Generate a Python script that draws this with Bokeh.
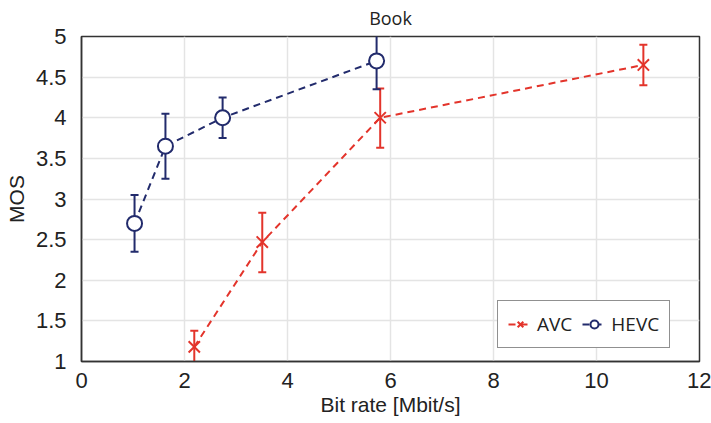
from bokeh.plotting import figure
from bokeh.models import ColumnDataSource, Legend, LegendItem, Range1d, FixedTicker
from bokeh.embed import file_html
from bokeh.resources import INLINE

# Data
avc_rate = [2.19, 3.51, 5.80, 10.91]
avc_mos = [1.18, 2.47, 4.00, 4.65]
avc_lo = [0.98, 2.10, 3.63, 4.40]
avc_hi = [1.38, 2.83, 4.36, 4.90]

hevc_rate = [1.03, 1.63, 2.74, 5.73]
hevc_mos = [2.70, 3.65, 4.00, 4.70]
hevc_lo = [2.35, 3.25, 3.75, 4.35]
hevc_hi = [3.05, 4.05, 4.25, 5.05]

x_ticks = [0, 2, 4, 6, 8, 10, 12]
y_ticks = [1, 1.5, 2, 2.5, 3, 3.5, 4, 4.5, 5]

RED = "#e3342b"
NAVY = "#222b6c"

p = figure(width=711, height=423, output_backend="svg", toolbar_location=None,
           x_range=Range1d(0, 12), y_range=Range1d(1, 5),
           min_border_left=81, min_border_right=12, min_border_top=36, min_border_bottom=62)

p.title.text = "Book"
p.title.align = "center"
p.title.vertical_align = "top"
p.title.text_font = "Open Sans"
p.title.text_font_size = "18px"
p.title.text_font_style = "normal"
p.title.text_color = "#222222"
p.title.offset = 0
p.title.standoff = 10

p.outline_line_color = "#333333"
p.outline_line_width = 1.5

for ax in (p.xaxis[0], p.yaxis[0]):
    ax.major_tick_line_color = None
    ax.minor_tick_line_color = None
    ax.axis_line_color = "#333333"
    ax.axis_line_width = 1.5
    ax.major_label_text_font = "Liberation Sans"
    ax.major_label_text_font_size = "22px"
    ax.major_label_text_color = "#222222"
    ax.axis_label_text_font = "Liberation Sans"
    ax.axis_label_text_font_size = "21px"
    ax.axis_label_text_font_style = "normal"
    ax.axis_label_text_color = "#222222"

p.xaxis.ticker = FixedTicker(ticks=x_ticks)
p.yaxis.ticker = FixedTicker(ticks=y_ticks)
p.yaxis.major_label_overrides = {1: "1", 2: "2", 3: "3", 4: "4", 5: "5"}
p.xaxis.axis_label = "Bit rate [Mbit/s]"
p.yaxis.axis_label = "MOS"
p.xaxis.major_label_standoff = 5
p.yaxis.major_label_standoff = 9
p.xaxis.axis_label_standoff = 2
p.yaxis.axis_label_standoff = 5

p.grid.grid_line_color = "#e4e4e4"
p.grid.grid_line_width = 1.5

avc = ColumnDataSource(dict(x=avc_rate, y=avc_mos, lo=avc_lo, hi=avc_hi))
hevc = ColumnDataSource(dict(x=hevc_rate, y=hevc_mos, lo=hevc_lo, hi=hevc_hi))

# error bars
for src, col in ((avc, RED), (hevc, NAVY)):
    p.segment(x0="x", y0="lo", x1="x", y1="hi", source=src, line_color=col, line_width=2)
    p.scatter(x="x", y="lo", source=src, marker="dash", size=8, line_color=col, line_width=2)
    p.scatter(x="x", y="hi", source=src, marker="dash", size=8, line_color=col, line_width=2)

avc_line = p.line(x="x", y="y", source=avc, line_color=RED, line_width=2, line_dash="7 5")
avc_pts = p.scatter(x="x", y="y", source=avc, marker="x", size=16, line_color=RED, line_width=2)

hevc_line = p.line(x="x", y="y", source=hevc, line_color=NAVY, line_width=2, line_dash="7 5")
hevc_pts = p.scatter(x="x", y="y", source=hevc, marker="circle", size=15, line_color=NAVY,
                     fill_color="white", line_width=2)

legend = Legend(items=[LegendItem(label="AVC", renderers=[avc_line, avc_pts]),
                       LegendItem(label="HEVC", renderers=[hevc_line, hevc_pts])],
                orientation="horizontal", location=(416, 13))
legend.border_line_color = "#222222"
legend.border_line_width = 1.5
legend.label_text_font = "Open Sans"
legend.label_text_font_size = "19px"
legend.label_text_color = "#222222"
legend.glyph_width = 24
legend.spacing = 10
legend.padding = 10
legend.margin = 0
legend.background_fill_alpha = 1
p.add_layout(legend, "center")

open("out.html", "w").write(file_html(p, INLINE))
